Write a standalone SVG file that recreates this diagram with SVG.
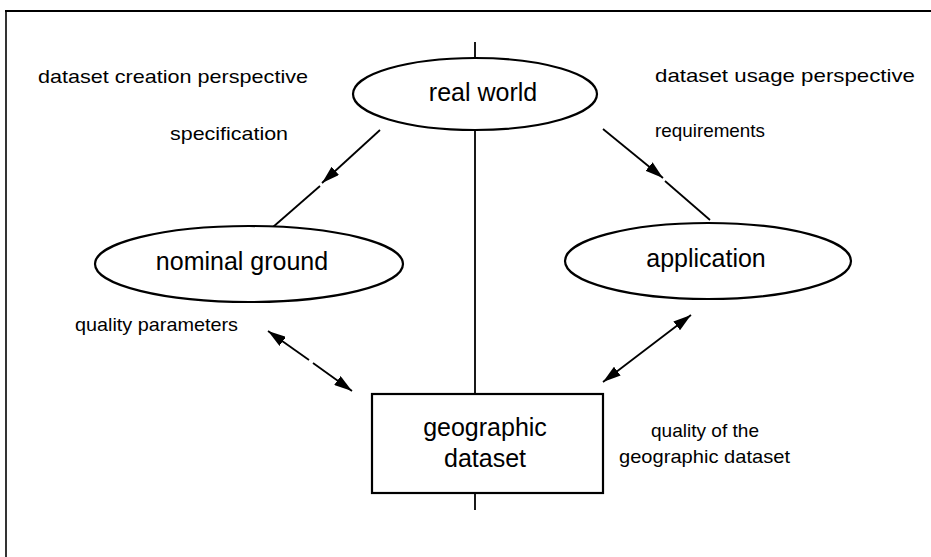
<svg xmlns="http://www.w3.org/2000/svg" width="931" height="557" viewBox="0 0 931 557">
<defs>
<style>
.big{font-family:"Liberation Sans",Arial,sans-serif;font-size:25px;fill:#000;text-anchor:middle}
.lbl{font-family:"Liberation Sans",Arial,sans-serif;font-size:19px;fill:#000}
.shape{fill:#fff;stroke:#000;stroke-width:2.2}
.ln{stroke:#000;stroke-width:1.8;fill:none}
</style>
<marker id="ah" viewBox="0 0 18 11" refX="18" refY="5.5" markerWidth="18" markerHeight="11" markerUnits="userSpaceOnUse" orient="auto-start-reverse">
<path d="M0,0 L18,5.5 L0,11 Z" fill="#000"/>
</marker>
</defs>
<rect width="931" height="557" fill="#fff"/>
<g id="frame">
<line x1="5" y1="11" x2="931" y2="11" stroke="#000" stroke-width="2.2"/>
<line x1="6" y1="11" x2="6" y2="557" stroke="#000" stroke-width="1.6"/>
</g>
<g id="connectors">
<line class="ln" x1="475" y1="42" x2="475" y2="58"/>
<line class="ln" x1="475" y1="130" x2="475" y2="394"/>
<line class="ln" x1="475" y1="493" x2="475" y2="510"/>
<line class="ln" x1="380" y1="130" x2="322" y2="183" marker-end="url(#ah)"/>
<line class="ln" x1="320" y1="186" x2="273" y2="227"/>
<line class="ln" x1="603" y1="129" x2="663" y2="178" marker-end="url(#ah)"/>
<line class="ln" x1="665" y1="181" x2="710" y2="220"/>
<line class="ln" x1="268" y1="331" x2="309" y2="360" marker-start="url(#ah)"/>
<line class="ln" x1="313" y1="363" x2="352" y2="391" marker-end="url(#ah)"/>
<line class="ln" x1="691" y1="315" x2="603" y2="382" marker-start="url(#ah)" marker-end="url(#ah)"/>
</g>
<g id="real-world">
<ellipse class="shape" cx="475" cy="94" rx="122" ry="36"/>
<text class="big" x="483" y="101">real world</text>
</g>
<g id="nominal-ground">
<ellipse class="shape" cx="249" cy="264" rx="154" ry="38"/>
<text class="big" x="242" y="270">nominal ground</text>
</g>
<g id="application">
<ellipse class="shape" cx="708" cy="261" rx="143" ry="38"/>
<text class="big" x="706" y="267">application</text>
</g>
<g id="geographic-dataset">
<rect class="shape" x="372" y="394" width="231" height="99"/>
<text class="big" x="485" y="436">geographic</text>
<text class="big" x="485" y="467">dataset</text>
</g>
<g id="labels">
<text class="lbl" x="38" y="83" textLength="270" lengthAdjust="spacingAndGlyphs">dataset creation perspective</text>
<text class="lbl" x="170" y="140" textLength="118" lengthAdjust="spacingAndGlyphs">specification</text>
<text class="lbl" x="655" y="82" textLength="260" lengthAdjust="spacingAndGlyphs">dataset usage perspective</text>
<text class="lbl" x="655" y="137" textLength="110" lengthAdjust="spacingAndGlyphs">requirements</text>
<text class="lbl" x="75" y="331" textLength="163" lengthAdjust="spacingAndGlyphs">quality parameters</text>
<text class="lbl" x="651" y="437" textLength="108" lengthAdjust="spacingAndGlyphs">quality of the</text>
<text class="lbl" x="619" y="463" textLength="171" lengthAdjust="spacingAndGlyphs">geographic dataset</text>
</g>
</svg>
